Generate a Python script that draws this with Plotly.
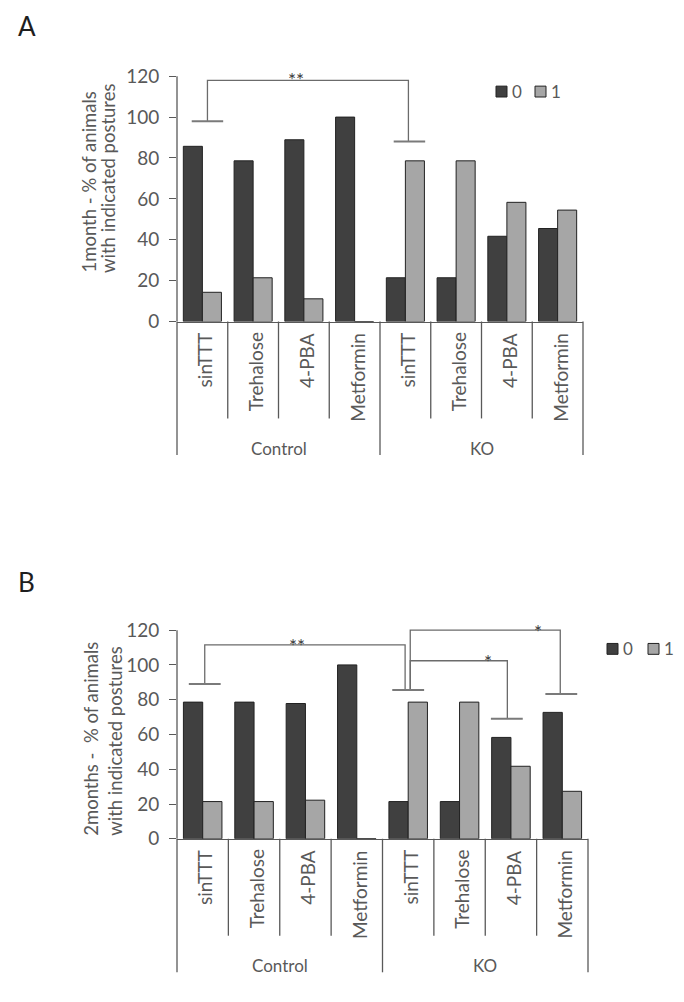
import plotly.graph_objects as go

# ---------------- data ----------------
treatments = ["sinTTT", "Trehalose", "4-PBA", "Metformin",
              "sinTTT", "Trehalose", "4-PBA", "Metformin"]
groups = ["Control", "KO"]
series_names = ["0", "1"]
a_posture0 = [85.7, 78.6, 88.9, 100.0, 21.4, 21.4, 41.7, 45.5]
a_posture1 = [14.3, 21.4, 11.1, 0.0, 78.6, 78.6, 58.3, 54.5]
b_posture0 = [78.6, 78.6, 77.8, 100.0, 21.4, 21.4, 58.3, 72.7]
b_posture1 = [21.4, 21.4, 22.2, 0.0, 78.6, 78.6, 41.7, 27.3]
yticks = [0, 20, 40, 60, 80, 100, 120]
ytitle_a = ["1month - % of animals", "with indicated postures"]
ytitle_b = ["2months -  % of animals", "with indicated postures"]

# significance brackets: (x_left, x_right, y_top, y_end_left, y_end_right, label, label_x, label_y)
brackets_a = [(0.10, 4.06, 118, 98, 88, "**", 1.85, 122.4)]
brackets_b = [(0.04, 3.94, 111.5, 89, 85.5, "**", 1.83, 116),
              (4.04, 6.96, 120, 85.5, 83.2, "*", 6.52, 124),
              (4.04, 5.93, 102.4, 85.5, 69, "*", 5.55, 106.5)]
caps_a = [(0.10, 98), (4.08, 88)]
caps_b = [(0.04, 89), (4.0, 85.5), (6.98, 83.2), (5.92, 69)]

# ---------------- style ----------------
W, H = 684, 1002
OFF = 8  # page body margin of the browser; positions below are page pixels
FONT = "Lato"
TXT = "#595959"
DARK = "#404040"
LIGHT = "#a6a6a6"
LINE = "#6b6b6b"
EDGE = "#222222"


def px(v):
    return v / W


def py(v):
    return 1 - v / H


panels = [
    dict(key="", x0=177, x1=583, ybase=325, ppu=2.067, ymax=126,
         v0=a_posture0, v1=a_posture1, title=ytitle_a, title_x=[89, 108], title_bottom=278,
         brackets=brackets_a, caps=caps_a, letter="A", letter_y=26,
         legend_x=496, legend_y=92.5, legend_step=[39, 14]),
    dict(key="2", x0=177, x1=588, ybase=848, ppu=1.758, ymax=130,
         v0=b_posture0, v1=b_posture1, title=ytitle_b, title_x=[91, 115], title_bottom=847,
         brackets=brackets_b, caps=caps_b, letter="B", letter_y=588,
         legend_x=607, legend_y=656, legend_step=[41, 14]),
]

fig = go.Figure()
shapes = []
annotations = []
xpos = list(range(len(treatments)))
SEP_LEN = 98
OUTER_LEN = 135

for p in panels:
    k = p["key"]
    xa, ya = "x" + k, "y" + k
    hpx = p["ymax"] * p["ppu"]
    ybase = p["ybase"] - OFF
    ytop_px = ybase - hpx
    xdom = [px(p["x0"] - OFF), px(p["x1"] - OFF)]
    ydom = [py(ybase), py(ytop_px)]
    cols = [DARK, LIGHT]
    for name, vals, col in [(series_names[0], p["v0"], cols[0]), (series_names[1], p["v1"], cols[1])]:
        fig.add_trace(go.Bar(x=xpos, y=vals, name=name, xaxis=xa, yaxis=ya,
                             marker=dict(color=col, line=dict(color=EDGE, width=1)),
                             showlegend=False, hoverinfo="skip"))
    fig.layout["xaxis" + k] = dict(domain=xdom, anchor=ya, range=[-0.5, 7.5],
                                   showticklabels=False, ticks="", showgrid=False,
                                   zeroline=False, showline=True, linecolor=TXT, linewidth=1.3)
    fig.layout["yaxis" + k] = dict(domain=ydom, anchor=xa, range=[0, p["ymax"]],
                                   tickvals=yticks, ticks="outside", ticklen=7, tickwidth=1.3,
                                   tickcolor=TXT, ticklabelstandoff=6,
                                   tickfont=dict(family=FONT, size=19, color=TXT),
                                   showgrid=False, zeroline=False, showline=False)
    xd, yd = xa + " domain", ya + " domain"
    # y axis line up to 120
    shapes.append(dict(type="line", xref=xd, yref=ya, x0=0, x1=0, y0=0, y1=yticks[-1],
                       line=dict(color=TXT, width=1.3)))
    # category separators
    n = len(treatments)
    for j in range(n + 1):
        L = OUTER_LEN if j in (0, n // 2, n) else SEP_LEN
        shapes.append(dict(type="line", xref=xd, yref=yd, x0=j / n, x1=j / n,
                           y0=0, y1=-L / hpx, line=dict(color=TXT, width=1.3)))
    # category labels
    for i, t in enumerate(treatments):
        annotations.append(dict(text=t, xref=xa, yref=yd, x=i, y=0, yshift=-9,
                                xshift=2, textangle=-90, xanchor="center", yanchor="top",
                                showarrow=False, font=dict(family=FONT, size=19, color=TXT)))
    for gi, g in enumerate(groups):
        annotations.append(dict(text=g, xref=xa, yref=yd, x=gi * 4 + 1.5, y=0, yshift=-127,
                                xanchor="center", yanchor="middle", showarrow=False,
                                font=dict(family=FONT, size=17, color=TXT)))
    # y title (two lines, start-aligned)
    for line_txt, tx in zip(p["title"], p["title_x"]):
        annotations.append(dict(text=line_txt, xref="paper", yref="paper",
                                x=px(tx - OFF), y=py(p["title_bottom"] - OFF), textangle=-90,
                                xanchor="center", yanchor="bottom",
                                showarrow=False, font=dict(family=FONT, size=18.5, color=TXT)))
    # panel letter
    annotations.append(dict(text=p["letter"], xref="paper", yref="paper", x=px(16 - OFF),
                            y=py(p["letter_y"] - OFF), xanchor="left", yanchor="middle",
                            showarrow=False, font=dict(family=FONT, size=26, color="#1e1e1e")))
    # significance brackets
    for (xl, xr, yt, yel, yer, lab, lx, ly) in p["brackets"]:
        shapes.append(dict(type="path", xref=xa, yref=ya,
                           path=f"M{xl},{yel} L{xl},{yt} L{xr},{yt} L{xr},{yer}",
                           line=dict(color=LINE, width=1.3)))
        annotations.append(dict(text=lab, xref=xa, yref=ya, x=lx, y=ly, yshift=-8,
                                showarrow=False, xanchor="center", yanchor="middle",
                                font=dict(family=FONT, size=19, color="#3a3a3a")))
    for (cx, cy) in p["caps"]:
        shapes.append(dict(type="line", xref=xa, yref=ya, x0=cx - 0.31, x1=cx + 0.31,
                           y0=cy, y1=cy, line=dict(color="#7a7a7a", width=2)))
    # legend (series keys)
    lx, ly = p["legend_x"] - OFF, p["legend_y"] - OFF
    step, tgap = p["legend_step"]
    for si, (name, col) in enumerate(zip(series_names, cols)):
        sx = lx + si * step
        shapes.append(dict(type="rect", xref="paper", yref="paper",
                           x0=px(sx), x1=px(sx + 11),
                           y0=py(ly + 5.5), y1=py(ly - 5.5),
                           fillcolor=col, line=dict(color=EDGE, width=1)))
        annotations.append(dict(text=name, xref="paper", yref="paper",
                                x=px(sx + tgap), y=py(ly), xanchor="left",
                                yanchor="middle", showarrow=False,
                                font=dict(family=FONT, size=17, color=TXT)))

fig.update_layout(
    width=W, height=H, margin=dict(l=0, r=0, t=0, b=0),
    paper_bgcolor="white", plot_bgcolor="white",
    barmode="group", bargap=0.25, bargroupgap=0,
    shapes=shapes, annotations=annotations,
    showlegend=False,
)

fig.write_html("out.html")
